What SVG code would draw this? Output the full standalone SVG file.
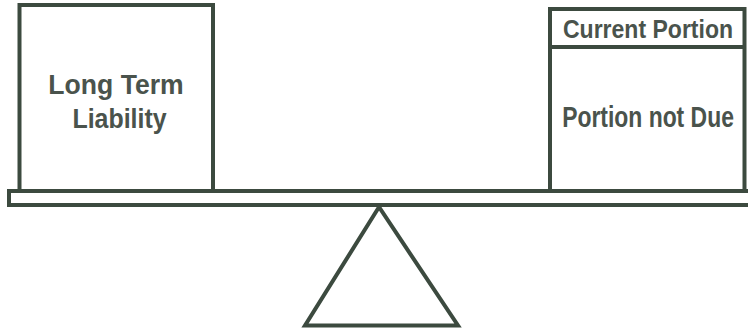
<svg xmlns="http://www.w3.org/2000/svg" width="748" height="331" viewBox="0 0 748 331">
<style>
.ln{fill:none;stroke:#3c4a3f;stroke-width:4;stroke-linejoin:miter}
.tx{font-family:"Liberation Sans",Arial,sans-serif;font-weight:bold;fill:#4a534c;text-anchor:middle}
</style>
<rect width="748" height="331" fill="#ffffff"/>
<g id="beam">
<rect class="ln" x="9" y="191" width="760" height="14"/>
</g>
<g id="fulcrum">
<polygon class="ln" points="379,207 305,325.5 458,325.5"/>
</g>
<g id="long-term-liability">
<path class="ln" d="M19.5 191 V5 H213 V191"/>
<text class="tx" transform="translate(116 94) scale(0.95 1)" font-size="28">Long Term</text>
<text class="tx" transform="translate(119.5 128) scale(0.89 1)" font-size="28">Liability</text>
</g>
<g id="current-liability">
<path class="ln" d="M550 191 V9 H744.5 V191 M550 47 H744.5"/>
<text class="tx" transform="translate(648 38) scale(0.885 1)" font-size="26">Current Portion</text>
<text class="tx" transform="translate(648 127) scale(0.79 1)" font-size="29">Portion not Due</text>
</g>
<g id="connectors"></g>
</svg>
